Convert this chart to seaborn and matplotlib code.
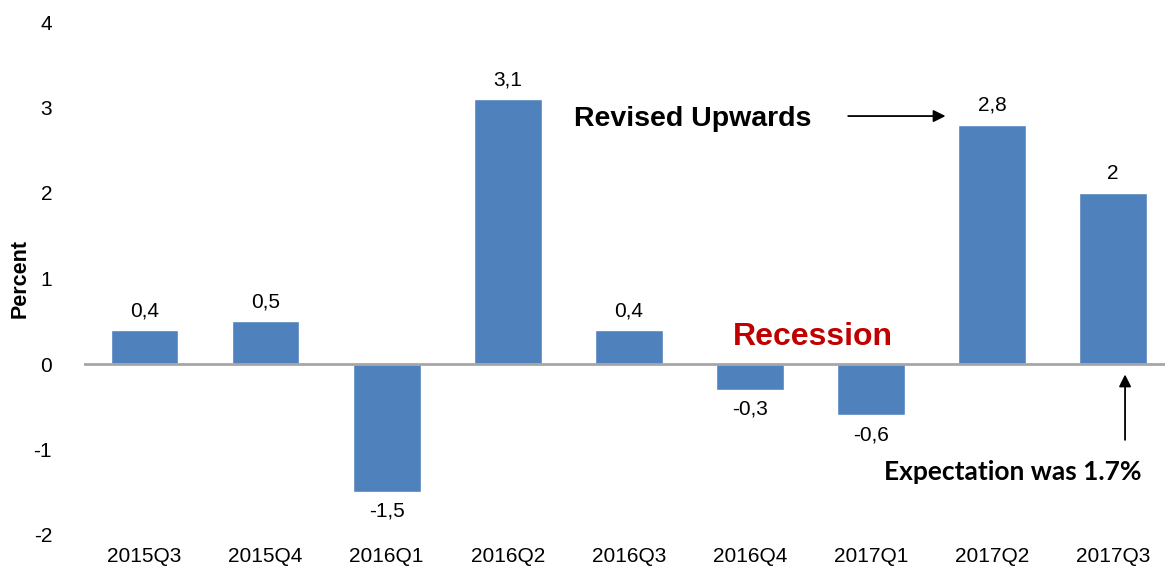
import matplotlib
matplotlib.use("Agg")
import matplotlib.pyplot as plt
import seaborn as sns
import pandas as pd

quarters = ["2015Q3", "2015Q4", "2016Q1", "2016Q2", "2016Q3", "2016Q4", "2017Q1", "2017Q2", "2017Q3"]
growth = [0.4, 0.5, -1.5, 3.1, 0.4, -0.3, -0.6, 2.8, 2.0]
value_labels = ["0,4", "0,5", "-1,5", "3,1", "0,4", "-0,3", "-0,6", "2,8", "2"]
y_ticks = [-2, -1, 0, 1, 2, 3, 4]

sns.set_theme(style="white")
plt.rcParams["font.family"] = ["Liberation Sans", "DejaVu Sans"]

df = pd.DataFrame({"quarter": quarters, "growth": growth})

fig = plt.figure(figsize=(11.65, 5.74), dpi=100)
ax = fig.add_axes([84 / 1165, (574 - 535) / 574, (1165 - 84) / 1165, (535 - 22) / 574])

sns.barplot(data=df, x="quarter", y="growth", color="#4F81BD", saturation=1,
            width=0.56, ax=ax)

ax.set_ylim(-2, 4)
ax.set_xlim(-0.5, 8.43)
ax.set_yticks(y_ticks)
ax.set_yticklabels([str(t) for t in y_ticks], fontsize=15, color="#000000")
ax.tick_params(axis="x", labelsize=15, colors="#000000", length=0, pad=9)
ax.tick_params(axis="y", length=0, pad=23)
for s in ax.spines.values():
    s.set_visible(False)
ax.axhline(0, color="#A6A6A6", lw=2, zorder=3)
ax.set_xlabel("")
ax.set_ylabel("Percent", fontsize=15.5, fontweight="bold", color="#000000")
ax.yaxis.set_label_coords(-0.049, 0.5)

for i, (v, lab) in enumerate(zip(growth, value_labels)):
    if v >= 0:
        ax.annotate(lab, (i, v), xytext=(0, 7), textcoords="offset points",
                    ha="center", va="bottom", fontsize=15, color="#000000")
    else:
        ax.annotate(lab, (i, v), xytext=(0, -7), textcoords="offset points",
                    ha="center", va="top", fontsize=15, color="#000000")

ax.text(5.52, 0.32, "Recession", color="#C00000", fontsize=23, fontweight="bold",
        ha="center", va="center")
ax.text(4.53, 2.86, "Revised Upwards", color="#000000", fontsize=20.5, fontweight="bold",
        ha="center", va="center")
ax.annotate("", xy=(6.64, 2.9), xytext=(5.79, 2.9),
            arrowprops=dict(arrowstyle="-|>", color="black", lw=1.3, mutation_scale=18))
ax.annotate("", xy=(8.1, -0.09), xytext=(8.1, -0.92),
            arrowprops=dict(arrowstyle="-|>", color="black", lw=1.3, mutation_scale=18))
ax.text(7.17, -1.26, "Expectation was 1.7%", color="#000000", fontsize=19,
        fontweight="bold", ha="center", va="center", family=["Lato", "DejaVu Sans"])

fig.savefig("out.png", dpi=100)
